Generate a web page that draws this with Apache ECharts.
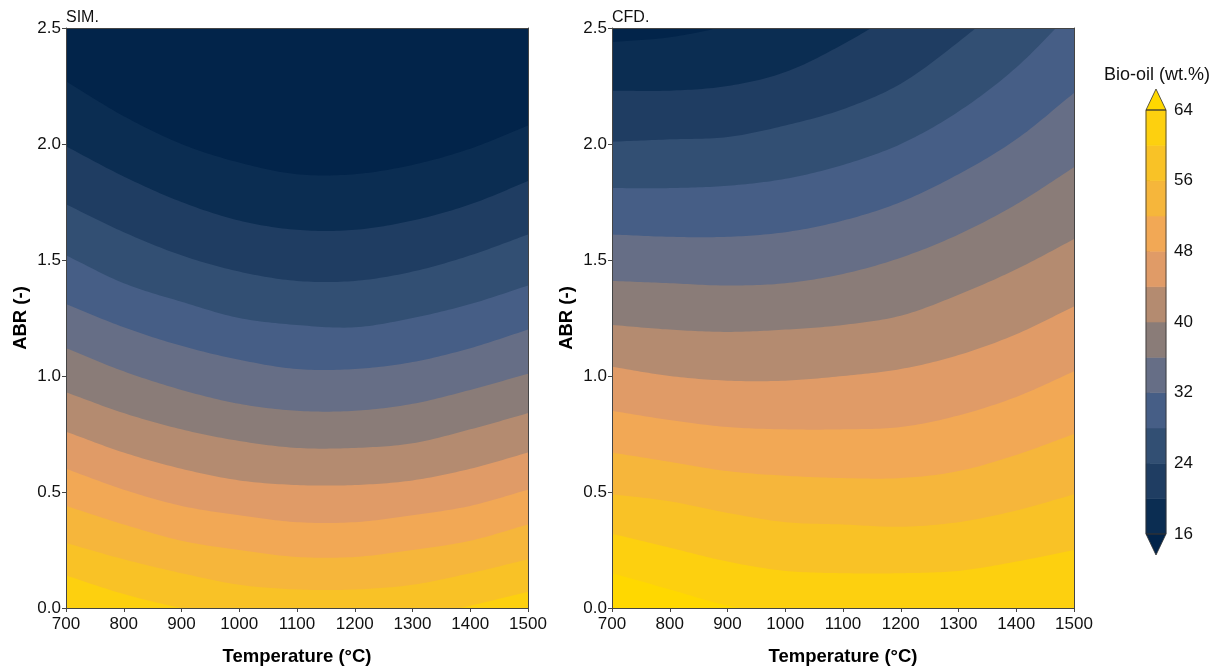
<!DOCTYPE html>
<html lang="en">
<head>
<meta charset="UTF-8"/>
<title>Bio-oil contour</title>
<script src="https://cdn.jsdelivr.net/npm/echarts@6/dist/echarts.min.js"></script>
<style>
  html, body { margin: 0; padding: 0; background: #fff; }
  #main { width: 1220px; height: 671px; }
</style>
</head>
<body>
<div id="main"></div>
<script>
var temps = [700, 800, 900, 1000, 1100, 1200, 1300, 1400, 1500];
var xTicks = [700, 800, 900, 1000, 1100, 1200, 1300, 1400, 1500];
var yTicks = [0, 0.5, 1.0, 1.5, 2.0, 2.5];
var cbTicks = [16, 24, 32, 40, 48, 56, 64];

// ABR of each contour line (bio-oil wt.%) at every temperature, SIM. panel
var simL16 = [2.27, 2.12, 2.00, 1.92, 1.87, 1.87, 1.91, 1.98, 2.08];
var simL20 = [1.99, 1.86, 1.75, 1.67, 1.63, 1.63, 1.67, 1.74, 1.84];
var simL24 = [1.74, 1.62, 1.52, 1.45, 1.41, 1.41, 1.45, 1.52, 1.61];
var simL28 = [1.52, 1.40, 1.32, 1.25, 1.22, 1.21, 1.25, 1.31, 1.39];
var simL32 = [1.31, 1.21, 1.13, 1.07, 1.03, 1.03, 1.06, 1.12, 1.20];
var simL36 = [1.12, 1.02, 0.94, 0.88, 0.85, 0.85, 0.88, 0.94, 1.01];
var simL40 = [0.93, 0.84, 0.77, 0.72, 0.69, 0.69, 0.71, 0.77, 0.84];
var simL44 = [0.76, 0.67, 0.60, 0.55, 0.53, 0.53, 0.55, 0.60, 0.67];
var simL48 = [0.60, 0.51, 0.44, 0.40, 0.37, 0.37, 0.40, 0.44, 0.51];
var simL52 = [0.44, 0.36, 0.29, 0.25, 0.22, 0.22, 0.25, 0.29, 0.36];
var simL56 = [0.28, 0.21, 0.15, 0.10, 0.08, 0.08, 0.10, 0.15, 0.21];
var simL60 = [0.14, 0.06, 0.00, -0.04, -0.06, -0.06, -0.04, 0.01, 0.07];

// same for the CFD. panel
var cfdL16 = [2.44, 2.46, 2.51, 2.58, 2.68, 2.80, 2.95, 3.10, 3.30];
var cfdL20 = [2.23, 2.23, 2.25, 2.31, 2.43, 2.58, 2.76, 2.95, 3.20];
var cfdL24 = [2.01, 2.02, 2.03, 2.08, 2.15, 2.26, 2.44, 2.65, 2.90];
var cfdL28 = [1.81, 1.81, 1.82, 1.85, 1.91, 2.00, 2.14, 2.33, 2.58];
var cfdL32 = [1.61, 1.60, 1.60, 1.62, 1.67, 1.75, 1.87, 2.02, 2.22];
var cfdL36 = [1.41, 1.40, 1.39, 1.40, 1.44, 1.51, 1.61, 1.74, 1.90];
var cfdL40 = [1.22, 1.20, 1.19, 1.20, 1.22, 1.26, 1.35, 1.46, 1.59];
var cfdL44 = [1.04, 1.00, 0.98, 0.98, 1.00, 1.03, 1.09, 1.18, 1.30];
var cfdL48 = [0.85, 0.81, 0.78, 0.77, 0.77, 0.78, 0.83, 0.91, 1.02];
var cfdL52 = [0.67, 0.63, 0.59, 0.57, 0.56, 0.56, 0.59, 0.66, 0.75];
var cfdL56 = [0.49, 0.46, 0.41, 0.37, 0.36, 0.35, 0.37, 0.42, 0.49];
var cfdL60 = [0.32, 0.26, 0.20, 0.16, 0.15, 0.15, 0.16, 0.20, 0.25];
var cfdL64 = [0.15, 0.08, 0.01, -0.03, -0.05, -0.06, -0.05, -0.04, -0.02];

var simLevels = [16, 20, 24, 28, 32, 36, 40, 44, 48, 52, 56, 60];
var simLines = [simL16, simL20, simL24, simL28, simL32, simL36, simL40, simL44, simL48, simL52, simL56, simL60];
var cfdLevels = [16, 20, 24, 28, 32, 36, 40, 44, 48, 52, 56, 60, 64];
var cfdLines = [cfdL16, cfdL20, cfdL24, cfdL28, cfdL32, cfdL36, cfdL40, cfdL44, cfdL48, cfdL52, cfdL56, cfdL60, cfdL64];

// colour bar bands 16-20 ... 60-64, plus the two extension colours
var cbBands = [16, 20, 24, 28, 32, 36, 40, 44, 48, 52, 56, 60];
var bandColors = ['#0B2D52', '#1F3D62', '#324F73', '#465E86', '#666E86', '#8A7C78',
                  '#B48B70', '#E09B67', '#F2A855', '#F6B63B', '#F9C226', '#FDD00F'];
var underColor = '#02244A';
var overColor = '#FFD800';

var FONT = '"Liberation Sans", Arial, sans-serif';
var myChart = echarts.init(document.getElementById('main'));

// colour of the region just above a contour line (values below the level)
function aboveColor(level) {
    return level === 16 ? underColor : bandColors[(level - 20) / 4];
}

// catmull-rom through the pixel points, sampled densely for a polygon outline
function smoothPoints(p) {
    var n = p.length;
    var ext = [[2 * p[0][0] - p[1][0], 2 * p[0][1] - p[1][1]]]
        .concat(p, [[2 * p[n - 1][0] - p[n - 2][0], 2 * p[n - 1][1] - p[n - 2][1]]]);
    var out = [p[0]];
    for (var i = 1; i < n; i++) {
        var P0 = ext[i - 1], P1 = ext[i], P2 = ext[i + 1], P3 = ext[i + 2];
        var c1 = [P1[0] + (P2[0] - P0[0]) / 6, P1[1] + (P2[1] - P0[1]) / 6];
        var c2 = [P2[0] - (P3[0] - P1[0]) / 6, P2[1] - (P3[1] - P1[1]) / 6];
        for (var s = 1; s <= 16; s++) {
            var t = s / 16, u = 1 - t;
            out.push([
                u * u * u * P1[0] + 3 * u * u * t * c1[0] + 3 * u * t * t * c2[0] + t * t * t * P2[0],
                u * u * u * P1[1] + 3 * u * u * t * c1[1] + 3 * u * t * t * c2[1] + t * t * t * P2[1]
            ]);
        }
    }
    return out;
}

function contourSeries(levels, lines, xi, yi) {
    // highest level first: every fill runs up to the top, lower values paint over
    var data = [];
    for (var i = lines.length - 1; i >= 0; i--) {
        data.push([levels[i]].concat(lines[i]));
    }
    return {
        type: 'custom',
        xAxisIndex: xi,
        yAxisIndex: yi,
        clip: true,
        silent: true,
        z: 2,
        data: data,
        renderItem: function (params, api) {
            var level = api.value(0);
            var pts = temps.map(function (t, k) { return api.coord([t, api.value(k + 1)]); });
            var topY = api.coord([temps[0], 2.5])[1] - 3;
            var outline = smoothPoints(pts);
            outline.push([pts[pts.length - 1][0], topY]);
            outline.push([pts[0][0], topY]);
            return {
                type: 'polygon',
                shape: { points: outline },
                style: { fill: aboveColor(level) }
            };
        }
    };
}

function mainX(grid) {
    return {
        type: 'value', gridIndex: grid, min: 700, max: 1500, interval: 100,
        name: 'Temperature (°C)', nameLocation: 'middle', nameGap: 39,
        nameTextStyle: { fontFamily: FONT, fontSize: 18.5, fontWeight: 'bold', color: '#000' },
        axisLine: { show: true, onZero: false, lineStyle: { color: '#444', width: 1 } },
        axisTick: { show: true, length: 4, lineStyle: { color: '#444' } },
        axisLabel: { fontFamily: FONT, fontSize: 17, color: '#111', margin: 8,
            formatter: function (v) { return xTicks.indexOf(v) >= 0 ? String(v) : ''; } },
        splitLine: { show: false },
        z: 5
    };
}
function borderX(grid) {
    return {
        type: 'value', gridIndex: grid, position: 'top', min: 700, max: 1500,
        axisLine: { show: true, onZero: false, lineStyle: { color: '#444', width: 1 } },
        axisTick: { show: false }, axisLabel: { show: false }, splitLine: { show: false }, z: 5
    };
}
function mainY(grid) {
    return {
        type: 'value', gridIndex: grid, min: 0, max: 2.5, interval: 0.5,
        name: 'ABR (-)', nameLocation: 'middle', nameGap: 36,
        nameTextStyle: { fontFamily: FONT, fontSize: 18.5, fontWeight: 'bold', color: '#000' },
        axisLine: { show: true, onZero: false, lineStyle: { color: '#444', width: 1 } },
        axisTick: { show: true, length: 4, lineStyle: { color: '#444' } },
        axisLabel: { fontFamily: FONT, fontSize: 17, color: '#111', margin: 5,
            formatter: function (v) { return v.toFixed(1); } },
        splitLine: { show: false },
        z: 5
    };
}
function borderY(grid) {
    return {
        type: 'value', gridIndex: grid, position: 'right', min: 0, max: 2.5,
        axisLine: { show: true, onZero: false, lineStyle: { color: '#444', width: 1 } },
        axisTick: { show: false }, axisLabel: { show: false }, splitLine: { show: false }, z: 5
    };
}

var series = [
    contourSeries(simLevels, simLines, 0, 0),
    contourSeries(cfdLevels, cfdLines, 2, 2)
];

// colour bar bands
series.push({
    type: 'custom',
    xAxisIndex: 4,
    yAxisIndex: 4,
    silent: true,
    data: cbBands.map(function (lo) { return [lo, lo + 4]; }),
    renderItem: function (params, api) {
        var p1 = api.coord([0, api.value(1)]);
        var p2 = api.coord([1, api.value(0)]);
        var c = bandColors[params.dataIndex];
        return {
            type: 'rect',
            shape: { x: p1[0], y: p1[1], width: p2[0] - p1[0], height: p2[1] - p1[1] },
            style: { fill: c, stroke: c, lineWidth: 0.6 }
        };
    }
});
// extension triangles + outline
series.push({
    type: 'custom',
    xAxisIndex: 4,
    yAxisIndex: 4,
    silent: true,
    data: [[16, 64]],
    renderItem: function (params, api) {
        var lo = api.value(0), hi = api.value(1);
        var tl = api.coord([0, hi]), tr = api.coord([1, hi]);
        var bl = api.coord([0, lo]), br = api.coord([1, lo]);
        var mid = (tl[0] + tr[0]) / 2;
        var tip = 21;
        return {
            type: 'group',
            children: [
                { type: 'polygon', shape: { points: [[tl[0], tl[1]], [mid, tl[1] - tip], [tr[0], tr[1]]] },
                  style: { fill: overColor, stroke: '#333', lineWidth: 0.8 } },
                { type: 'polygon', shape: { points: [[bl[0], bl[1]], [mid, bl[1] + tip], [br[0], br[1]]] },
                  style: { fill: underColor, stroke: '#333', lineWidth: 0.8 } },
                { type: 'rect', shape: { x: tl[0], y: tl[1], width: tr[0] - tl[0], height: bl[1] - tl[1] },
                  style: { fill: 'none', stroke: '#333', lineWidth: 0.8 } }
            ]
        };
    }
});

var option = {
    backgroundColor: '#fff',
    animation: false,
    textStyle: { fontFamily: FONT },
    grid: [
        { left: 66, top: 28, width: 462, height: 584, show: true, backgroundColor: bandColors[11], borderWidth: 0 },
        { left: 612, top: 28, width: 462, height: 584, show: true, backgroundColor: overColor, borderWidth: 0 },
        { left: 1146, top: 110, width: 20, height: 424, show: false }
    ],
    xAxis: [
        mainX(0), borderX(0), mainX(1), borderX(1),
        { type: 'value', gridIndex: 2, min: 0, max: 1, show: false }
    ],
    yAxis: [
        mainY(0), borderY(0), mainY(1), borderY(1),
        {
            type: 'value', gridIndex: 2, min: 16, max: 64, interval: 8, position: 'right',
            axisLine: { show: false },
            axisTick: { show: true, length: 4, lineStyle: { color: '#333' } },
            axisLabel: { fontFamily: FONT, fontSize: 17, color: '#111', margin: 8,
                formatter: function (v) { return cbTicks.indexOf(v) >= 0 ? String(v) : ''; } },
            splitLine: { show: false }
        }
    ],
    graphic: [
        { type: 'text', x: 66, y: 10, style: { text: 'SIM.', font: '16px ' + FONT, fill: '#111' } },
        { type: 'text', x: 612, y: 10, style: { text: 'CFD.', font: '16px ' + FONT, fill: '#111' } },
        { type: 'text', x: 1157, y: 66, style: { text: 'Bio-oil (wt.%)', font: '18px ' + FONT, fill: '#111', textAlign: 'center' } }
    ],
    series: series
};

myChart.setOption(option);
</script>
</body>
</html>
